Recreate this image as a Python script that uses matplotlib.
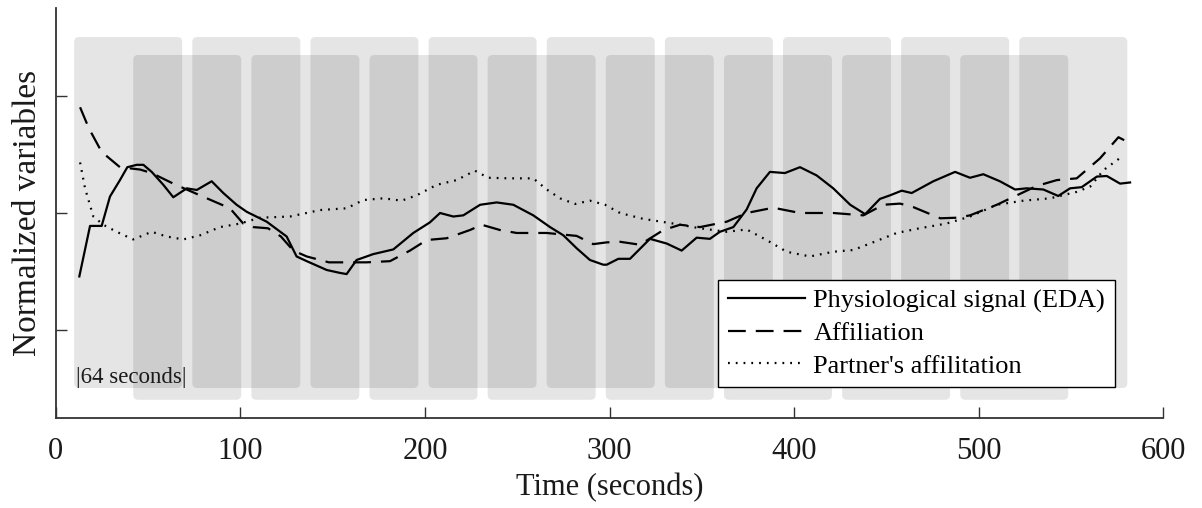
import matplotlib
matplotlib.use("Agg")
import matplotlib.pyplot as plt
from matplotlib.patches import FancyBboxPatch

plt.rcParams['font.family'] = ['Liberation Serif', 'DejaVu Serif']

# ---- data ----
eda_t = [12.8, 18.6, 24.9, 29.4, 34.8, 38.8, 43.9, 47.5, 52, 58.3, 63.7, 71, 76.4, 84.5, 90.8,
         98, 103.5, 114.3, 125.1, 130.5, 136, 146.8, 154, 157.6, 163, 172, 182.9, 193.7, 202.7,
         208.2, 215.4, 220.8, 229.9, 238.9, 247.9, 258.7, 267.8, 275, 282.2, 289.4, 296.6, 298.5,
         304.8, 311.1, 321.9, 331, 339.1, 347.2, 354.4, 359.8, 367.1, 374.3, 379.7, 386.9, 395,
         403.2, 412.2, 421.2, 430.4, 438.5, 446.5, 451.9, 458.3, 463.7, 475.4, 487.2, 495.3,
         502.5, 511.5, 519.7, 526, 535, 543.1, 549.5, 555.8, 564, 569.4, 576.6, 582]
eda_y = [-0.54, -0.11, -0.11, 0.14, 0.28, 0.39, 0.41, 0.41, 0.35, 0.24, 0.134, 0.21, 0.196, 0.27, 0.17,
         0.07, 0.01, -0.074, -0.20, -0.37, -0.41, -0.485, -0.51, -0.52, -0.40, -0.35, -0.31, -0.17, -0.08,
         0.0, -0.03, -0.02, 0.07, 0.09, 0.07, -0.02, -0.12, -0.19, -0.30, -0.40, -0.44, -0.44,
         -0.39, -0.39, -0.22, -0.26, -0.32, -0.21, -0.22, -0.16, -0.12, 0.03, 0.21, 0.35, 0.34,
         0.39, 0.32, 0.21, 0.07, -0.01, 0.12, 0.15, 0.19, 0.17, 0.27, 0.35, 0.30,
         0.33, 0.27, 0.20, 0.21, 0.20, 0.145, 0.21, 0.22, 0.31, 0.315, 0.25, 0.26]

aff_t = [13.2, 18, 24.9, 34.8, 45.7, 52, 63.7, 78.2, 94.4, 101.6, 107, 115, 122, 128.7, 136, 148,
         168.4, 181.1, 191.9, 201, 211.8, 224.4, 230.8, 240.7, 249.7, 266, 282.2, 291.2, 298.5,
         305.7, 316.5, 329.2, 338.2, 349, 363.5, 374.3, 388.7, 403.2, 421.2, 437.5, 441.1, 448.3,
         457.4, 464.6, 479.2, 488.3, 495.3, 509.8, 520.6, 531.4, 542.3, 553.1, 565.7, 575.7, 578.8]
aff_y = [0.90, 0.72, 0.52, 0.39, 0.37, 0.34, 0.25, 0.15, 0.04, -0.09, -0.12, -0.13, -0.20, -0.32, -0.37, -0.42,
         -0.42, -0.41, -0.32, -0.23, -0.215, -0.145, -0.10, -0.145, -0.17, -0.17, -0.195, -0.265, -0.25,
         -0.245, -0.27, -0.145, -0.10, -0.12, -0.074, 0.0, 0.045, 0.0, 0.0, -0.02, 0.01, 0.07,
         0.08, 0.05, -0.045, -0.04, -0.02, 0.07, 0.15, 0.23, 0.28, 0.295, 0.465, 0.645, 0.62]

par_t = [13.2, 15.9, 20.4, 25.8, 33, 42, 52, 60.1, 69.1, 78.2, 89, 99.8, 110.7, 126.9, 143.2, 157.6,
         166.6, 177.5, 187.4, 195.5, 206.4, 217.2, 227.1, 234.3, 246.1, 258.7, 266, 273.2, 281.3,
         289.4, 297.6, 305.7, 318.3, 334.6, 349, 363.5, 374.3, 385.1, 396, 408.6, 421.2, 432,
         441.1, 455.6, 468, 482.5, 495.3, 509.8, 524.2, 538.7, 553.1, 560.4, 567.6, 577.6]
par_y = [0.43, 0.21, -0.03, -0.10, -0.16, -0.225, -0.16, -0.20, -0.225, -0.19, -0.12, -0.09, -0.04, -0.03, 0.025, 0.04,
         0.11, 0.125, 0.105, 0.15, 0.24, 0.28, 0.36, 0.30, 0.295, 0.295, 0.20, 0.125, 0.077,
         0.105, 0.07, 0.0, -0.05, -0.09, -0.13, -0.16, -0.14, -0.23, -0.33, -0.37, -0.33, -0.315,
         -0.26, -0.17, -0.13, -0.09, -0.03, 0.07, 0.105, 0.125, 0.18, 0.225, 0.365, 0.48]

light_starts = [10 + 64 * k for k in range(9)]
dark_starts = [42 + 64 * k for k in range(8)]
win_width = 58.5

labels = ["Physiological signal (EDA)", "Affiliation", "Partner's affilitation"]

# ---- figure ----
W, H = 1202, 508
fig = plt.figure(figsize=(W / 100, H / 100), dpi=100)
ax_l, ax_r, ax_t, ax_b = 55.7, 1163.3, 8, 418
ax = fig.add_axes([ax_l / W, 1 - ax_b / H, (ax_r - ax_l) / W, (ax_b - ax_t) / H])

xlim = (0, 600)
ylim = (-1.745, 1.745)
ax.set_xlim(*xlim)
ax.set_ylim(*ylim)

px_per_x = (ax_r - ax_l) / (xlim[1] - xlim[0])
px_per_y = (ax_b - ax_t) / (ylim[1] - ylim[0])
aspect = px_per_x / px_per_y
r = 5 / px_per_x

def add_box(x0, y0, y1):
    p = FancyBboxPatch((x0, y0), win_width, y1 - y0,
                       boxstyle=f"round,pad=0,rounding_size={r}",
                       mutation_aspect=aspect,
                       facecolor='black', alpha=0.1, edgecolor='none', zorder=1)
    ax.add_patch(p)

for s in light_starts:
    add_box(s, -1.49, 1.498)
for s in dark_starts:
    add_box(s, -1.59, 1.345)

lw = 1.6
ax.plot(eda_t, eda_y, color='black', lw=lw, ls='-', label=labels[0], zorder=3)
ax.plot(aff_t, aff_y, color='black', lw=lw, ls=(0, (8, 4.5)), label=labels[1], zorder=3)
ax.plot(par_t, par_y, color='black', lw=lw, ls=(0, (0.8, 2.7)), label=labels[2], zorder=3)

ax.text(11, -1.404, "|64 seconds|", fontsize=16.5, ha='left', va='center', color='#1a1a1a', zorder=4)

leg = ax.legend(loc='lower right', bbox_to_anchor=(0.956, 0.0756), bbox_transform=ax.transAxes,
                fontsize=19, frameon=True, fancybox=False, framealpha=1, edgecolor='black',
                borderpad=0.36, handlelength=2.95, handletextpad=0.3, labelspacing=0.33,
                borderaxespad=0)
leg.get_frame().set_linewidth(1.0)
leg.set_zorder(5)

for side in ['top', 'right']:
    ax.spines[side].set_visible(False)
for side in ['left', 'bottom']:
    ax.spines[side].set_color('#333333')
    ax.spines[side].set_linewidth(1.3)

ax.set_xticks([0, 100, 200, 300, 400, 500, 600])
ax.set_yticks([-1, 0, 1])
ax.set_yticklabels([])
ax.tick_params(axis='both', direction='in', length=8, width=1.0, color='#333333')
ax.tick_params(axis='x', labelsize=22, pad=14, labelcolor='#1a1a1a')

ax.set_xlabel("Time (seconds)", fontsize=22, color='#1a1a1a', labelpad=5)
ax.set_ylabel("Normalized variables", fontsize=24, color='#1a1a1a', labelpad=6)

fig.savefig("out.png", dpi=100)
